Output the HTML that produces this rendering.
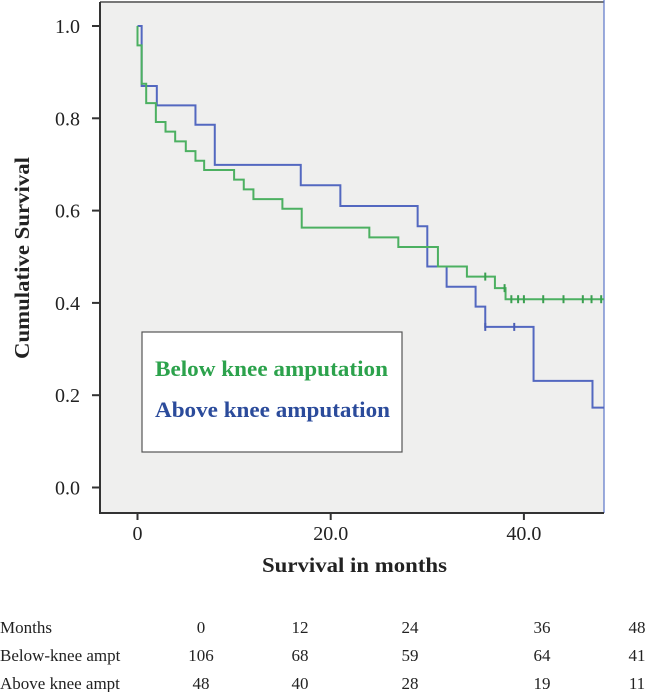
<!DOCTYPE html>
<html><head><meta charset="utf-8"><style>
body{margin:0;background:#fff;width:647px;height:692px;overflow:hidden;font-family:"Liberation Serif",serif;}
svg text{font-family:"Liberation Serif",serif;}
</style></head><body>
<svg width="647" height="692">
<rect x="100" y="2" width="504" height="511" fill="#efefee"/>
<line x1="100" y1="2" x2="604" y2="2" stroke="#777" stroke-width="2"/>
<line x1="604" y1="0" x2="604" y2="513" stroke="#5b74c8" stroke-width="1.2"/>
<line x1="100" y1="2" x2="100" y2="513" stroke="#333" stroke-width="2"/>
<line x1="99" y1="513" x2="604" y2="513" stroke="#333" stroke-width="2"/>
<g id="yticks"></g><g id="xticks"></g>
<g id="series"></g>
<rect x="142" y="332" width="260" height="120" fill="#fff" stroke="#555" stroke-width="1.2"/>
<text x="155" y="376" font-size="22" font-weight="bold" fill="#2ca24c" textLength="233" lengthAdjust="spacingAndGlyphs">Below knee amputation</text>
<text x="155" y="417" font-size="22" font-weight="bold" fill="#2b4b9b" textLength="235" lengthAdjust="spacingAndGlyphs">Above knee amputation</text>
<text transform="translate(29,258) rotate(-90)" text-anchor="middle" font-size="21" font-weight="bold" fill="#222" textLength="202" lengthAdjust="spacingAndGlyphs">Cumulative Survival</text>
<text x="354.5" y="572" text-anchor="middle" font-size="21" font-weight="bold" fill="#222" textLength="185" lengthAdjust="spacingAndGlyphs">Survival in months</text>
<g id="table" font-size="17" fill="#222"></g>
</svg>
<script>
const yTicks=[0.0,0.2,0.4,0.6,0.8,1.0];
const xTicks=[0,20,40];
const xTickLabels=["0","20.0","40.0"];
const greenTimes=[0,0.43,0.9,1.9,2.9,3.9,5.0,6.0,6.9,10.0,11.0,12.0,15.0,17.0,24.0,27.0,31.1,34.1,37.0,38.1];
const greenSurv=[0.958,0.875,0.833,0.792,0.771,0.75,0.729,0.708,0.688,0.667,0.646,0.625,0.604,0.563,0.542,0.521,0.479,0.457,0.432,0.408];
const greenCensor=[36.0,38.0,38.7,39.4,40.0,42.0,44.1,46.1,47.0,48.0];
const blueTimes=[0.43,2.0,6.0,8.0,16.9,21.0,29.0,30.0,32.0,35.0,36.0,41.0,47.1];
const blueSurv=[0.870,0.828,0.786,0.699,0.655,0.610,0.566,0.479,0.435,0.392,0.348,0.231,0.173];
const blueCensor=[36.0,39.0];
const tableHead=["Months","0","12","24","36","48"];
const belowRow=["Below-knee ampt","106","68","59","64","41"];
const aboveRow=["Above knee ampt","48","40","28","19","11"];
const xMax=48.3;
const NS="http://www.w3.org/2000/svg";
const X=m=>137.5+m*9.66;
const Y=s=>487.5-s*461.5;
function mk(t,a,p){const e=document.createElementNS(NS,t);for(const k in a)e.setAttribute(k,a[k]);p.appendChild(e);return e;}
const yt=document.getElementById('yticks');
yTicks.forEach(v=>{
 const l=mk('line',{x1:92,x2:100,y1:Y(v),y2:Y(v),stroke:'#333','stroke-width':2},yt);
 
 
 const t=mk('text',{x:80,y:Y(v)+7,'text-anchor':'end','font-size':20,fill:'#222'},yt);
 
 
 t.textContent=v.toFixed(1);
});
const xt=document.getElementById('xticks');
xTicks.forEach((v,i)=>{
 const l=mk('line',{x1:X(v),x2:X(v),y1:513,y2:520,stroke:'#333','stroke-width':2},xt);
 
 
 const t=mk('text',{x:X(v),y:540,'text-anchor':'middle','font-size':20,fill:'#222'},xt);
 
 
 t.textContent=xTickLabels[i];
});
function km(times,surv,start){let d=`M${X(0)},${Y(start)}`;
 times.forEach((t,i)=>{d+=` H${X(t)} V${Y(surv[i])}`;});d+=` H${X(xMax)}`;return d;}
function survAt(times,surv,t){let s=1;times.forEach((tt,i)=>{if(tt<=t)s=surv[i];});return s;}
const g=document.getElementById('series');
const bp=mk('path',{d:km(blueTimes,blueSurv,1),fill:'none',stroke:'#5368c0','stroke-width':2},g);


const gp=mk('path',{d:km(greenTimes,greenSurv,1),fill:'none',stroke:'#4cb061','stroke-width':2},g);


greenCensor.forEach(t=>{const y=Y(survAt(greenTimes,greenSurv,t));
 const c=mk('line',{x1:X(t),x2:X(t),y1:y-4,y2:y+4,stroke:'#3a9f50','stroke-width':2},g);
 
 });
blueCensor.forEach(t=>{const y=Y(survAt(blueTimes,blueSurv,t));
 const c=mk('line',{x1:X(t),x2:X(t),y1:y-4,y2:y+4,stroke:'#4a5db5','stroke-width':2},g);
 
 });
const tb=document.getElementById('table');
const colX=[0,201,300,410,542,637];
[[tableHead,633],[belowRow,661],[aboveRow,689]].forEach(([row,y])=>{
 row.forEach((txt,i)=>{const t=mk('text',{x:colX[i],y:y,'text-anchor':i==0?'start':'middle'},tb);
  
  
  t.textContent=txt;});
});
</script>
</body></html>
